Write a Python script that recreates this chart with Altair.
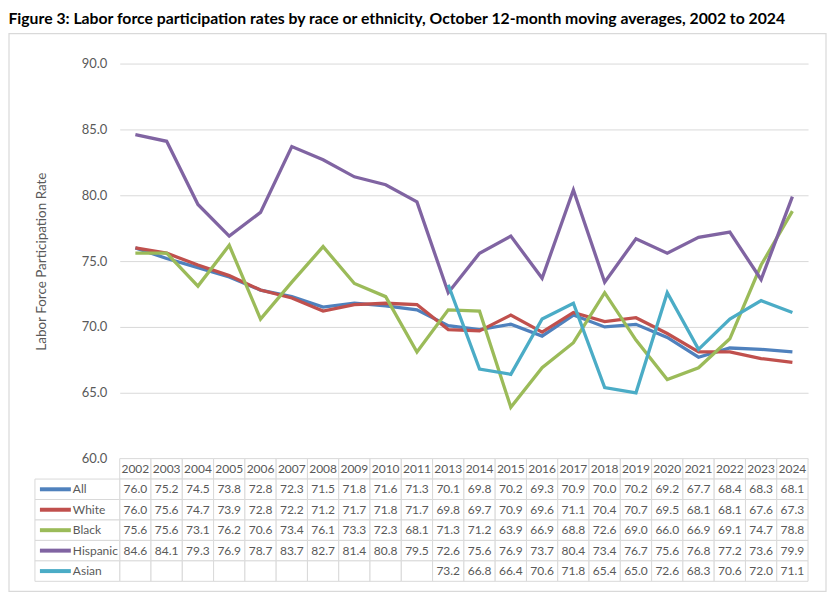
import altair as alt
import pandas as pd

years = ["2002", "2003", "2004", "2005", "2006", "2007", "2008", "2009", "2010", "2011",
         "2013", "2014", "2015", "2016", "2017", "2018", "2019", "2020", "2021", "2022",
         "2023", "2024"]
series = ["All", "White", "Black", "Hispanic", "Asian"]
all_vals = [76.0, 75.2, 74.5, 73.8, 72.8, 72.3, 71.5, 71.8, 71.6, 71.3,
            70.1, 69.8, 70.2, 69.3, 70.9, 70.0, 70.2, 69.2, 67.7, 68.4, 68.3, 68.1]
white_vals = [76.0, 75.6, 74.7, 73.9, 72.8, 72.2, 71.2, 71.7, 71.8, 71.7,
              69.8, 69.7, 70.9, 69.6, 71.1, 70.4, 70.7, 69.5, 68.1, 68.1, 67.6, 67.3]
black_vals = [75.6, 75.6, 73.1, 76.2, 70.6, 73.4, 76.1, 73.3, 72.3, 68.1,
              71.3, 71.2, 63.9, 66.9, 68.8, 72.6, 69.0, 66.0, 66.9, 69.1, 74.7, 78.8]
hispanic_vals = [84.6, 84.1, 79.3, 76.9, 78.7, 83.7, 82.7, 81.4, 80.8, 79.5,
                 72.6, 75.6, 76.9, 73.7, 80.4, 73.4, 76.7, 75.6, 76.8, 77.2, 73.6, 79.9]
asian_vals = [None, None, None, None, None, None, None, None, None, None,
              73.2, 66.8, 66.4, 70.6, 71.8, 65.4, 65.0, 72.6, 68.3, 70.6, 72.0, 71.1]
colors = ["#4F81BD", "#C0504D", "#9BBB59", "#8064A2", "#4BACC6"]
y_ticks = [60, 65, 70, 75, 80, 85, 90]
title_text = ("Figure 3: Labor force participation rates by race or ethnicity, "
              "October 12-month moving averages, 2002 to 2024")

FONT = "Lato"
GRAY = "#595959"
GRID = "#d9d9d9"
W, H = 690, 396
TFS = 12

all_series = [all_vals, white_vals, black_vals, hispanic_vals, asian_vals]
rows = []
for s, vals in zip(series, all_series):
    for y, v in zip(years, vals):
        rows.append({"series": s, "year": y, "value": v})
df = pd.DataFrame(rows)

color_scale = alt.Scale(domain=series, range=colors)

lines = alt.Chart(df).mark_line(strokeWidth=3.3).encode(
    x=alt.X("year:O", sort=years, scale=alt.Scale(type="point", padding=0.5), axis=None),
    y=alt.Y("value:Q", scale=alt.Scale(domain=[60, 90], nice=False, zero=False),
            axis=alt.Axis(values=y_ticks, format=".1f", grid=True, gridColor=GRID,
                          domain=False, ticks=False, labelPadding=13, labelFont=FONT,
                          labelFontSize=13, labelColor=GRAY,
                          title="Labor Force Participation Rate", titleFont=FONT,
                          titleFontSize=13.5, titleFontWeight="normal", titleColor=GRAY,
                          titlePadding=33)),
    color=alt.Color("series:N", scale=color_scale, legend=None),
    detail="series:N",
)

frame = alt.Chart(pd.DataFrame({"a": [0]})).mark_rect(
    fillOpacity=0, stroke=GRID, strokeWidth=1.2
).encode(x=alt.value(-111), x2=alt.value(708), y=alt.value(-30), y2=alt.value(529))

top = alt.layer(frame, lines).properties(width=W, height=H)

# ---- data table ----
row_keys = ["hdr"] + series
trows = []
for y in years:
    trows.append({"row": "hdr", "year": y, "label": y})
for s, vals in zip(series, all_series):
    for y, v in zip(years, vals):
        trows.append({"row": s, "year": y, "label": "" if v is None else f"{v:.1f}"})
tdf = pd.DataFrame(trows)

xt = alt.X("year:N", sort=years,
           scale=alt.Scale(type="band", paddingInner=0, paddingOuter=0), axis=None)
yscale = alt.Scale(domain=row_keys, paddingInner=0, paddingOuter=0)

cells = alt.Chart(tdf).mark_rect(fill="white", stroke=GRID, strokeWidth=1).encode(
    x=xt, y=alt.Y("row:N", scale=yscale, axis=None))
ctext = alt.Chart(tdf).mark_text(font=FONT, fontSize=TFS, color=GRAY).encode(
    x=alt.X("year:N", sort=years, bandPosition=0.5,
            scale=alt.Scale(type="band", paddingInner=0, paddingOuter=0), axis=None),
    y=alt.Y("row:N", scale=yscale, axis=None, bandPosition=0.5),
    text="label:N")

ldf = pd.DataFrame({"row": series, "series": series})
lcells = alt.Chart(ldf).mark_rect(fill="white", stroke=GRID, strokeWidth=1).encode(
    x=alt.value(-85), x2=alt.value(0), y=alt.Y("row:N", scale=yscale, axis=None))
swatch = alt.Chart(ldf).mark_rule(strokeWidth=4).encode(
    x=alt.value(-80), x2=alt.value(-49),
    y=alt.Y("row:N", scale=yscale, axis=None, bandPosition=0.5),
    color=alt.Color("series:N", scale=color_scale, legend=None))
ltext = alt.Chart(ldf).mark_text(font=FONT, fontSize=TFS, color=GRAY, align="left").encode(
    x=alt.value(-47), y=alt.Y("row:N", scale=yscale, axis=None, bandPosition=0.5),
    text="series:N")

table = alt.layer(cells, ctext, lcells, swatch, ltext).properties(width=W, height=123)

chart = alt.vconcat(top, table, spacing=0, bounds="flush").resolve_scale(
    x="independent", y="independent", color="independent"
).properties(
    title=alt.TitleParams(title_text, anchor="start", font=FONT, fontSize=15.8,
                          fontWeight="bold", color="black", offset=5),
    padding={"left": 0, "top": 2, "right": 0, "bottom": 0},
).configure_view(stroke=None)

chart.save("out.html", embed_options={"renderer": "svg", "actions": False})
